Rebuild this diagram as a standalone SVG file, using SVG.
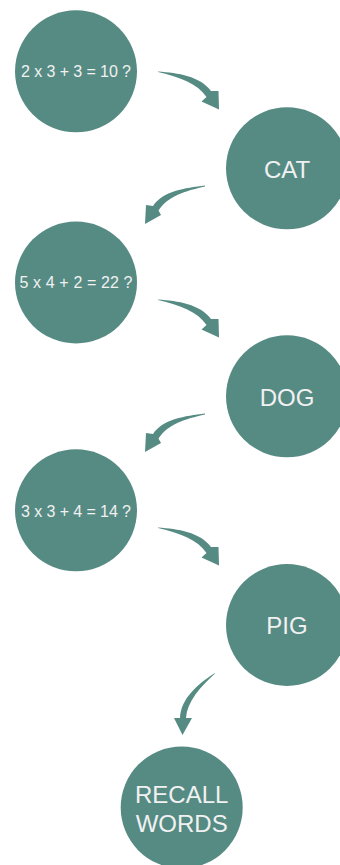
<svg xmlns="http://www.w3.org/2000/svg" width="340" height="865" viewBox="0 0 340 865">
<style>
.node circle{fill:#568b84}
.t{fill:#f1f1f1;font-family:"Liberation Sans",Arial,sans-serif;text-anchor:middle}
.s{font-size:16px}
.b{font-size:24px}
.arrow{fill:#568b84}
</style>
<defs>
<path id="arrR" d="M158,71.5 C178,73 200,76 211,91 L218.5,91 L219,109.5 L201.5,101.5 L206.5,97 C198,84 180,77 158,72 Z"/>
<path id="arrL" d="M205,185.5 C185,188 163,191 153,206 L146,205 L145,224 L161,215 L158.5,210.5 C168,196 185,191 205,186.5 Z"/>
</defs>
<rect width="340" height="865" fill="#ffffff"/>
<g id="q1" class="node"><circle cx="76" cy="71.3" r="61"/><text class="t s" x="76" y="77.3" textLength="110">2 x 3 + 3 = 10 ?</text></g>
<g id="cat" class="node"><circle cx="287" cy="168.3" r="61"/><text class="t b" x="287" y="178.2">CAT</text></g>
<g id="q2" class="node"><circle cx="76" cy="282.5" r="61"/><text class="t s" x="76" y="288.3" textLength="113">5 x 4 + 2 = 22 ?</text></g>
<g id="dog" class="node"><circle cx="287" cy="396.3" r="61"/><text class="t b" x="287" y="406">DOG</text></g>
<g id="q3" class="node"><circle cx="76" cy="510.3" r="61"/><text class="t s" x="76" y="516.7" textLength="110">3 x 3 + 4 = 14 ?</text></g>
<g id="pig" class="node"><circle cx="287" cy="625" r="61"/><text class="t b" x="287" y="634.4">PIG</text></g>
<g id="recall" class="node"><circle cx="181.7" cy="807.5" r="61"/><text class="t b" x="181.7" y="802.7">RECALL</text><text class="t b" x="181.7" y="831.7">WORDS</text></g>
<g id="connectors" class="arrow">
<use href="#arrR"/>
<use href="#arrL"/>
<use href="#arrR" transform="translate(0,228)"/>
<use href="#arrL" transform="translate(0,228)"/>
<use href="#arrR" transform="translate(0,456)"/>
<path d="M215,673 C198,684 181,698 180,718 L174,718 L182.5,735 L192,718 L186,718 C187,702 200,687 215,673.5 Z"/>
</g>
</svg>
